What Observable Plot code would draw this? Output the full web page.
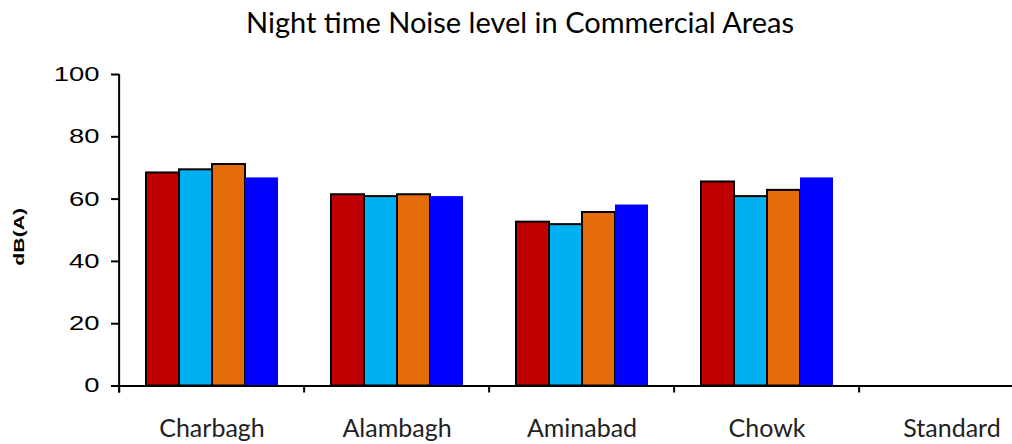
<!DOCTYPE html>
<html>
<head>
<meta charset="utf-8">
<script src="https://cdn.jsdelivr.net/npm/d3@7"></script>
<script src="https://cdn.jsdelivr.net/npm/@observablehq/plot@0.6"></script>
<style>
  html, body { margin: 0; padding: 0; background: #fff; }
  #title {
    width: 1012px; box-sizing: border-box; padding-left: 28px;
    height: 44px; line-height: 44px; text-align: center;
    font-family: Lato, "Open Sans", sans-serif; font-size: 29px; color: #000;
    white-space: nowrap;
  }
</style>
</head>
<body>
<div id="chart"><div id="title">Night time Noise level in Commercial Areas</div></div>
<script>
// ---- data ----
const categories = ["Charbagh", "Alambagh", "Aminabad", "Chowk", "Standard"];
const seriesNames = ["Series 1", "Series 2", "Series 3", "Series 4"];
const series1 = [68.4, 61.4, 52.6, 65.5, null];
const series2 = [69.4, 60.8, 51.8, 60.8, null];
const series3 = [71.1, 61.4, 55.7, 62.8, null];
const series4 = [66.8, 60.8, 58.1, 66.8, null];
const seriesColors = ["#C00000", "#00B0F0", "#E46C0A", "#0000FF"];
const yTicks = [0, 20, 40, 60, 80, 100];
const yLabel = "dB(A)";

const data = [];
[series1, series2, series3, series4].forEach((vals, s) =>
  categories.forEach((c, i) => data.push({category: c, series: seriesNames[s], value: vals[i]}))
);

// ---- layout ----
const W = 1012, H = 400, left = 117, band = 185.75;

const chart = Plot.plot({
  width: W, height: H,
  marginTop: 30, marginBottom: 58.5, marginLeft: left, marginRight: 0,
  style: {background: "#fff", overflow: "hidden"},
  fx: {domain: categories, range: [left, left + band * categories.length], padding: 0},
  x: {domain: seriesNames, paddingInner: 0, paddingOuter: 0.78, axis: null},
  y: {domain: [0, 100]},
  color: {domain: seriesNames, range: seriesColors},
  marks: [
    Plot.barY(data, {filter: d => d.series !== seriesNames[3], fx: "category", x: "series", y: "value",
      fill: "series", stroke: "#000", strokeWidth: 2}),
    Plot.barY(data, {filter: d => d.series === seriesNames[3], fx: "category", x: "series", y: "value",
      fill: "series"}),
    Plot.ruleY([0], {stroke: "#000", strokeWidth: 2}),
    Plot.ruleX([0], {x: null, dx: -band / 2, y1: 0, y2: 0, insetBottom: -7, stroke: "#000", strokeWidth: 2}),
    Plot.ruleX([0], {fx: () => categories[0], x: null, dx: -band / 2, y1: 100, y2: 0, insetBottom: -7,
      stroke: "#000", strokeWidth: 2}),
    Plot.axisY({ticks: yTicks, tickSize: 8, tickPadding: 12, strokeWidth: 2, stroke: "#000", fill: "#000",
      fontSize: 20, fontFamily: "Liberation Sans", label: null, tickFormat: d3.format("d")}),
    Plot.axisFx({anchor: "bottom", tickSize: 0, tickPadding: 33, fontSize: 25, fontFamily: "Lato",
      fill: "#222", label: null}),
    Plot.text([yLabel], {fx: () => categories[0], frameAnchor: "left", textAnchor: "middle", rotate: -90,
      dx: -100, dy: 6.5, fontWeight: "bold", fontSize: 15.5, fontFamily: "Liberation Sans", fill: "#000"})
  ]
});

document.getElementById("chart").appendChild(chart);

// horizontally stretched Arial-like texts, as in the reference
const stretch = 1.37;
chart.querySelectorAll('g[aria-label="y-axis tick label"] text').forEach(t => {
  const len = t.getComputedTextLength();
  t.setAttribute("textLength", len * stretch);
  t.setAttribute("lengthAdjust", "spacingAndGlyphs");
});
chart.querySelectorAll('g[aria-label="text"] text').forEach(t => {
  const tr = t.getAttribute("transform");
  if (tr) t.setAttribute("transform", tr + ` scale(${stretch},1)`);
  else {
    t.setAttribute("textLength", t.getComputedTextLength() * stretch);
    t.setAttribute("lengthAdjust", "spacingAndGlyphs");
  }
});
</script>
</body>
</html>
